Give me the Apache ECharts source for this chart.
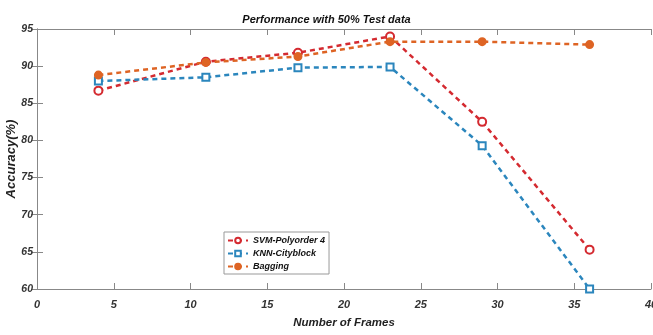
<!DOCTYPE html>
<html>
<head>
<meta charset="utf-8">
<script src="https://cdn.jsdelivr.net/npm/echarts@6/dist/echarts.min.js"></script>
<style>
  html, body { margin: 0; padding: 0; background: #fff; }
  #chart { width: 653px; height: 335px; }
</style>
</head>
<body>
<div id="chart"></div>
<script>
// data
const frames = [4, 11, 17, 23, 29, 36];
const svmPoly4 = [86.7, 90.6, 91.8, 94.0, 82.5, 65.3];
const knnCity = [88.0, 88.5, 89.8, 89.9, 79.3, 60.0];
const bagging = [88.8, 90.5, 91.3, 93.3, 93.3, 92.9];

const axisColor = '#888';
const font = '"Liberation Sans", Arial, sans-serif';

function pairs(ys) {
  return frames.map((x, i) => [x, ys[i]]);
}

const chart = echarts.init(document.getElementById('chart'));

const line = (name, data, color, symbol, size, fill) => ({
  name: name,
  type: 'line',
  data: pairs(data),
  symbol: symbol,
  symbolSize: size,
  itemStyle: { color: fill ? color : '#fff', borderColor: color, borderWidth: 2 },
  lineStyle: { color: color, width: 2.5, type: [5, 4] },
  emphasis: { disabled: true },
});

const italicBold = (size, color) => ({
  fontSize: size, fontWeight: 'bold', fontStyle: 'italic', color: color, fontFamily: font,
});

chart.setOption({
  animation: false,
  textStyle: { fontFamily: font },
  title: {
    text: 'Performance with 50% Test data',
    left: 'center',
    top: 9,
    textStyle: italicBold(11, '#111'),
  },
  legend: {
    orient: 'vertical',
    left: 224,
    top: 232,
    itemWidth: 20,
    itemHeight: 7,
    itemGap: 4,
    padding: [4, 4, 3, 3],
    borderColor: '#999',
    borderWidth: 1,
    backgroundColor: '#fff',
    textStyle: italicBold(9, '#111'),
    data: ['SVM-Polyorder 4', 'KNN-Cityblock', 'Bagging'],
  },
  grid: { left: 37, right: 2, top: 29, bottom: 46, containLabel: false, outerBoundsMode: 'none' },
  xAxis: [{
    type: 'value',
    min: 0,
    max: 40,
    interval: 5,
    name: 'Number of Frames',
    nameLocation: 'middle',
    nameGap: 28,
    nameMoveOverlap: false,
    nameTextStyle: italicBold(11.5, '#222'),
    axisLine: { lineStyle: { color: axisColor } },
    axisTick: { inside: true, length: 6, lineStyle: { color: axisColor } },
    axisLabel: Object.assign({ margin: 10 }, italicBold(11, '#333')),
    splitLine: { show: false },
  }, {
    type: 'value',
    position: 'top',
    min: 0,
    max: 40,
    interval: 5,
    axisLine: { lineStyle: { color: axisColor } },
    axisTick: { inside: true, length: 6, lineStyle: { color: axisColor } },
    axisLabel: { show: false },
    splitLine: { show: false },
  }],
  yAxis: [{
    type: 'value',
    min: 60,
    max: 95,
    interval: 5,
    name: 'Accuracy(%)',
    nameLocation: 'middle',
    nameGap: 19,
    nameMoveOverlap: false,
    nameTextStyle: italicBold(13, '#222'),
    axisLine: { show: true, lineStyle: { color: axisColor } },
    axisTick: { show: true, inside: true, length: 6, lineStyle: { color: axisColor } },
    axisLabel: Object.assign({ margin: 4 }, italicBold(10.5, '#333')),
    splitLine: { show: false },
  }, {
    type: 'value',
    position: 'right',
    min: 60,
    max: 95,
    interval: 5,
    axisLine: { show: true, lineStyle: { color: axisColor } },
    axisTick: { show: true, inside: true, length: 6, lineStyle: { color: axisColor } },
    axisLabel: { show: false },
    splitLine: { show: false },
  }],
  series: [
    line('SVM-Polyorder 4', svmPoly4, '#d42a30', 'circle', 8, false),
    line('KNN-Cityblock', knnCity, '#2b86bd', 'rect', 7, false),
    line('Bagging', bagging, '#de6424', 'circle', 7, true),
  ],
});
</script>
</body>
</html>
